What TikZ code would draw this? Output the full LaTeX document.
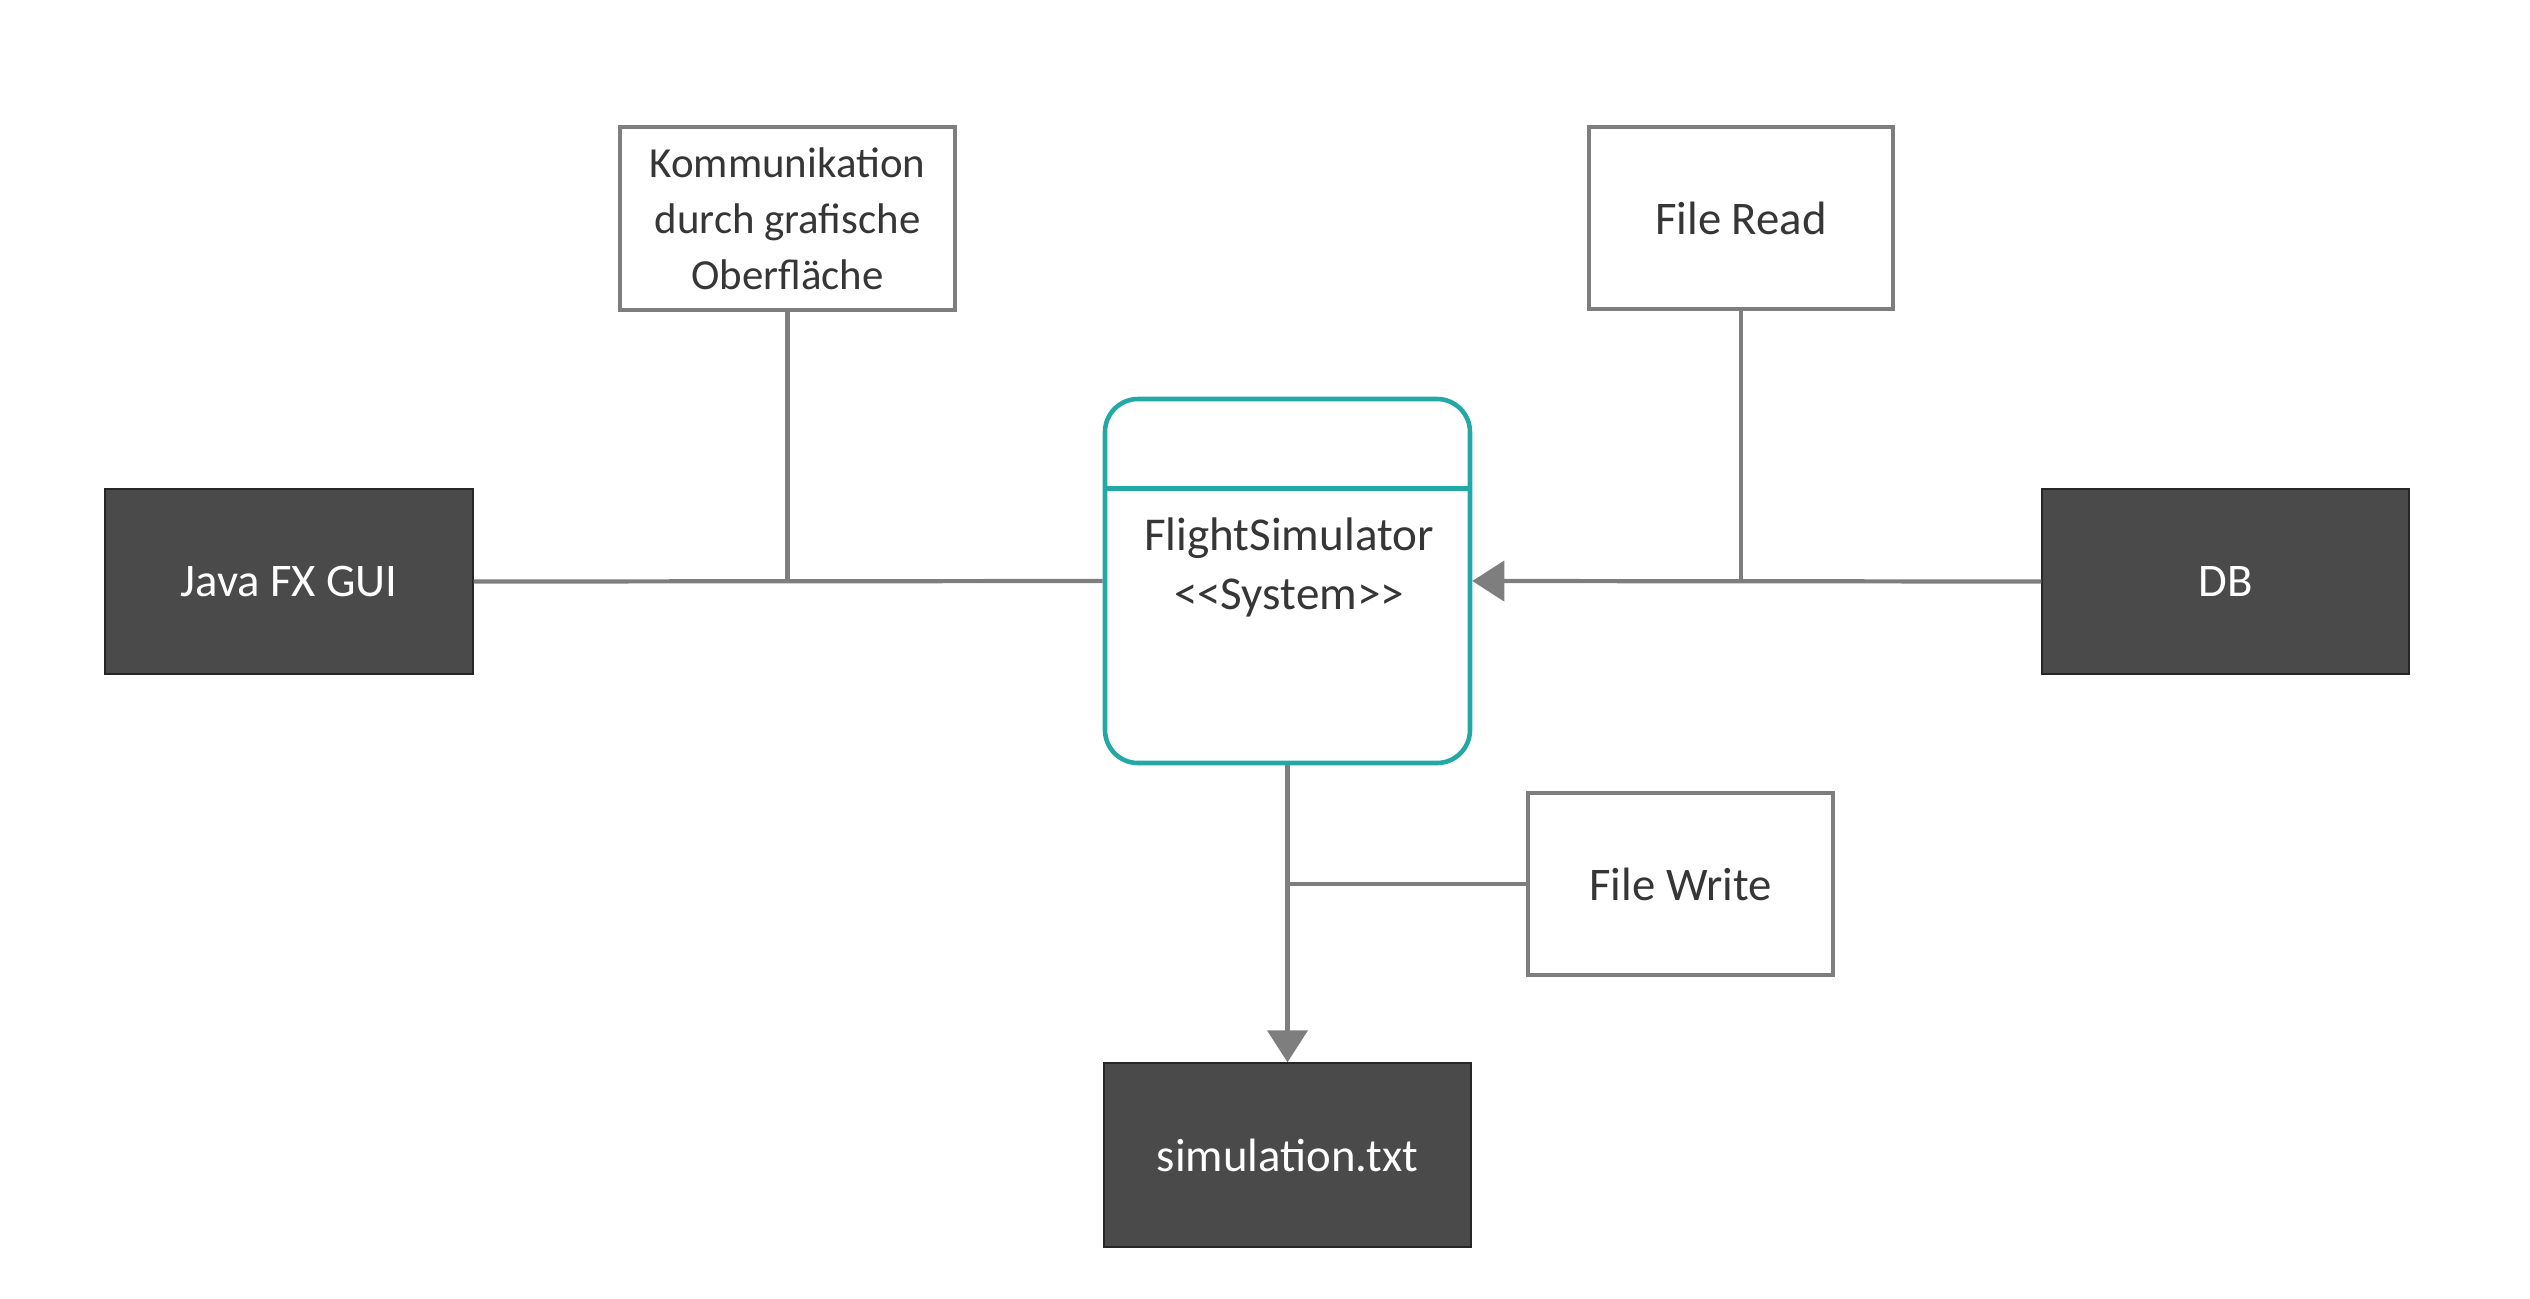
\documentclass[tikz,border=0pt]{standalone}
\usepackage{fontspec}
\setmainfont{Carlito}
\usepackage{xcolor}
\usepackage{tikz}
\usetikzlibrary{arrows.meta}
\definecolor{fsteal}{HTML}{22A9A6}
\definecolor{fsink}{HTML}{363636}
\definecolor{fsgrey}{HTML}{7E7E7E}
\definecolor{fsdark}{HTML}{4A4A4A}
\definecolor{fsedge}{HTML}{262626}
\tikzset{
  fsext/.style={rectangle, fill=fsdark, draw=fsedge, line width=0.4pt, text=white, font=\fontsize{13.3}{16}\selectfont, inner sep=0pt},
  fsnote/.style={rectangle, fill=white, draw=fsgrey, line width=1.3pt, text=fsink, font=\fontsize{13.3}{16}\selectfont, align=center, inner sep=0pt},
  fssys/.style={rectangle, rounded corners=0.33cm, draw=fsteal, line width=1.3pt},
  fsline/.style={draw=fsteal, line width=1.3pt},
  fstie/.style={draw=fsgrey, line width=1.2pt},
  fsdir/.style={draw=fsgrey, line width=1.2pt, -{Triangle[length=0.32cm, width=0.4cm]}}
}

\begin{document}
\begin{tikzpicture}
  \useasboundingbox (0,0) rectangle (25.30,-12.98);
  % system
  \node[fssys, minimum width=3.65cm, minimum height=3.64cm] (sys) at (12.875,-5.81) {};
  \path[fsline] ([yshift=-0.92cm]sys.north west) -- ([yshift=-0.92cm]sys.north east);
  \node[text=fsink, align=center, font=\fontsize{13.4}{16.8}\selectfont] (sysname) at (12.89,-5.675) {FlightSimulator\\<\kern0pt<System>\kern0pt>};
  % outer boxes
  \node[fsext, minimum width=3.68cm, minimum height=1.85cm] (gui) at (2.89,-5.815) {Java FX GUI};
  \node[fsext, minimum width=3.67cm, minimum height=1.85cm] (db) at (22.255,-5.815) {DB};
  \node[fsext, minimum width=3.67cm, minimum height=1.84cm] (sim) at (12.875,-11.55) {simulation.txt};
  % notes
  \node[fsnote, minimum width=3.35cm, minimum height=1.83cm, font=\fontsize{12.2}{15.9}\selectfont] (kom) at (7.875,-2.185) {Kommunikation\\durch grafische\\Oberfläche};
  \node[fsnote, minimum width=3.04cm, minimum height=1.82cm] (fread) at (17.41,-2.18) {File Read};
  \node[fsnote, minimum width=3.05cm, minimum height=1.82cm] (fwrite) at (16.805,-8.84) {File Write};
  % connectors
  \path[fstie] (gui.east) -- (sys.west);
  \path[fsdir] (db.west) -- (sys.east);
  \path[fsdir] (sys.south) -- (sim.north);
  \coordinate (komjoin) at (kom.south |- gui.east);
  \coordinate (readjoin) at (fread.south |- db.west);
  \coordinate (writejoin) at (sys.south |- fwrite.west);
  \path[fstie] (kom.south) -- (komjoin);
  \path[fstie] (fread.south) -- (readjoin);
  \path[fstie] (fwrite.west) -- (writejoin);
\end{tikzpicture}
\end{document}
